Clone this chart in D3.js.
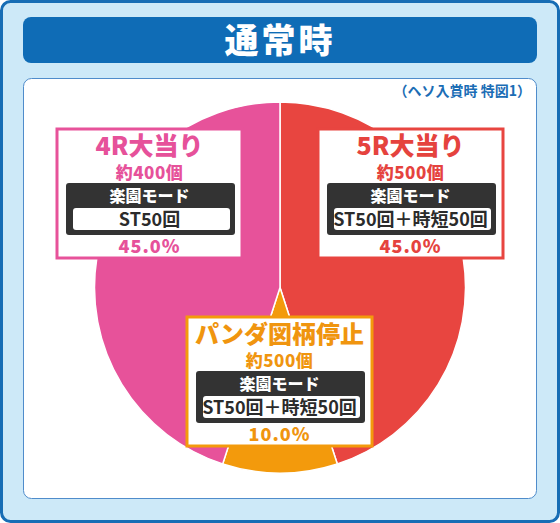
<!DOCTYPE html>
<html>
<head>
<meta charset="utf-8">
<script src="https://cdn.jsdelivr.net/npm/d3@7"></script>
<style>
  html, body { margin: 0; padding: 0; background: #fff; }
  text { font-family: "Noto Sans CJK JP", "Noto Sans", sans-serif; }
</style>
</head>
<body>
<div id="chart"></div>
<script>
// chart data
var slices   = ["5R大当り", "パンダ図柄停止", "4R大当り"];
var shares   = [45, 10, 45];
var payouts  = ["約500個", "約500個", "約400個"];
var modes    = ["ST50回＋時短50回", "ST50回＋時短50回", "ST50回"];
var modeName = "楽園モード";
var title    = "通常時";
var note     = "（ヘソ入賞時 特図1）";

function init() {
    var w = 560;
    var h = 523;

    var color = d3.scaleOrdinal()
                  .domain(slices)
                  .range(["#e84540", "#f39a0c", "#e7529a"]);
    var textColor = d3.scaleOrdinal()
                  .domain(slices)
                  .range(["#e5433e", "#f0950f", "#e6519a"]);

    var svg = d3.select("#chart")
                .append("svg")
                .attr("width", w)
                .attr("height", h);

    // outer frame
    svg.append("rect")
       .attr("x", 1.5).attr("y", 1.5)
       .attr("width", w - 3).attr("height", h - 3)
       .attr("rx", 9)
       .attr("fill", "#cde9f8")
       .attr("stroke", "#176db5")
       .attr("stroke-width", 3);

    // title bar
    svg.append("rect")
       .attr("x", 23).attr("y", 17)
       .attr("width", 514).attr("height", 46)
       .attr("rx", 8)
       .attr("fill", "#0f6cb6");

    svg.append("text")
       .attr("x", 280).attr("y", 53)
       .attr("text-anchor", "middle")
       .attr("font-size", 34)
       .attr("font-weight", 900)
       .attr("letter-spacing", 3)
       .attr("fill", "#fff")
       .text(title);

    // white panel
    svg.append("rect")
       .attr("x", 23.5).attr("y", 78.5)
       .attr("width", 513).attr("height", 420)
       .attr("rx", 8)
       .attr("fill", "#fff")
       .attr("stroke", "#4f8ccb")
       .attr("stroke-width", 1);

    svg.append("text")
       .attr("x", 531).attr("y", 96)
       .attr("text-anchor", "end")
       .attr("font-size", 14)
       .attr("font-weight", 700)
       .attr("fill", "#1b6db5")
       .text(note);

    // pie
    var cx = 280, cy = 287.5, r = 185.5;

    var pie = d3.pie()
                .sort(null)
                .value(function(d) { return d; });

    var arc = d3.arc()
                .innerRadius(0)
                .outerRadius(r);

    var g = svg.append("g")
               .attr("transform", "translate(" + cx + "," + cy + ")");

    g.selectAll("path")
     .data(pie(shares))
     .enter()
     .append("path")
     .attr("d", arc)
     .attr("fill", function(d, i) { return color(slices[i]); })
     .attr("stroke", "#fff")
     .attr("stroke-width", 1.5);

    // label boxes (top-left corner of each)
    var boxPos = [[318, 129], [187, 317], [57, 129]];
    var bw = 185, bh = 129;
    var fmt = d3.format(".1f");

    var boxes = svg.selectAll("g.box")
                   .data(slices)
                   .enter()
                   .append("g")
                   .attr("class", "box")
                   .attr("transform", function(d, i) {
                       return "translate(" + boxPos[i][0] + "," + boxPos[i][1] + ")";
                   });

    boxes.append("rect")
         .attr("width", bw).attr("height", bh)
         .attr("fill", "#fff")
         .attr("stroke", function(d) { return color(d); })
         .attr("stroke-width", 3);

    boxes.append("text")
         .attr("x", bw / 2).attr("y", 26)
         .attr("text-anchor", "middle")
         .attr("font-size", function(d) { return d.length > 5 ? 24 : 25; })
         .attr("font-weight", 900)
         .attr("fill", function(d) { return textColor(d); })
         .text(function(d) { return d; });

    boxes.append("text")
         .attr("x", bw / 2).attr("y", 50)
         .attr("text-anchor", "middle")
         .attr("font-size", 17)
         .attr("font-weight", 900)
         .attr("letter-spacing", 0.5)
         .attr("fill", function(d) { return textColor(d); })
         .text(function(d, i) { return payouts[i]; });

    boxes.append("rect")
         .attr("x", 9).attr("y", 54)
         .attr("width", 169).attr("height", 52)
         .attr("rx", 3)
         .attr("fill", "#333333");

    boxes.append("text")
         .attr("x", bw / 2).attr("y", 73)
         .attr("text-anchor", "middle")
         .attr("font-size", 16)
         .attr("font-weight", 900)
         .attr("fill", "#fff")
         .text(modeName);

    boxes.append("rect")
         .attr("x", 16).attr("y", 79)
         .attr("width", 157).attr("height", 22)
         .attr("rx", 3)
         .attr("fill", "#fff");

    boxes.append("text")
         .attr("x", bw / 2).attr("y", 97)
         .attr("text-anchor", "middle")
         .attr("font-size", 18)
         .attr("font-weight", 700)
         .attr("fill", "#2b2b2b")
         .text(function(d, i) { return modes[i]; });

    boxes.append("text")
         .attr("x", bw / 2).attr("y", 124)
         .attr("text-anchor", "middle")
         .attr("font-size", 18)
         .attr("font-weight", 900)
         .attr("letter-spacing", 1)
         .attr("fill", function(d) { return textColor(d); })
         .text(function(d, i) { return fmt(shares[i]) + "%"; });
}
window.onload = init;
</script>
</body>
</html>
